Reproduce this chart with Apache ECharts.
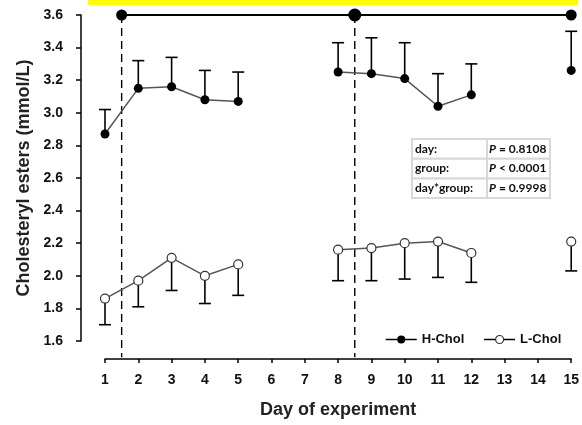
<!DOCTYPE html>
<html>
<head>
<meta charset="utf-8">
<script src="https://cdn.jsdelivr.net/npm/echarts@6/dist/echarts.min.js"></script>
<style>
html,body{margin:0;padding:0;background:#fff;}
#chart{width:582px;height:425px;}
</style>
</head>
<body>
<div id="chart"></div>
<script>
// ---- data ----
const days = [1, 2, 3, 4, 5, 8, 9, 10, 11, 12, 15];
const hMean  = [2.87, 3.15, 3.16, 3.08, 3.07, 3.25, 3.24, 3.21, 3.04, 3.11, 3.26];
const hUpper = [3.02, 3.32, 3.34, 3.26, 3.25, 3.43, 3.46, 3.43, 3.24, 3.30, 3.50];
const lMean  = [1.86, 1.97, 2.11, 2.00, 2.07, 2.16, 2.17, 2.20, 2.21, 2.14, 2.21];
const lLower = [1.70, 1.81, 1.91, 1.83, 1.88, 1.97, 1.97, 1.98, 1.99, 1.96, 2.03];
const phaseBreaks = [1.5, 8.5];
const topMarksX = [1.5, 8.5, 15];
const topMarksY = 3.6;
const xTicks = [1, 15, 1];       // min, max, interval
const yTicks = [1.6, 3.6, 0.2];  // min, max, interval
const statLabels = ['day:', 'group:', 'day*group:'];
const statOps = ['=', '<', '='];
const statValues = ['0.8108', '0.0001', '0.9998'];
const seriesNames = ['H-Chol', 'L-Chol'];

// ---- helpers ----
function withGaps(xs, ys) {
  const out = [];
  xs.forEach((x, i) => {
    if (i > 0 && x - xs[i - 1] > 1) out.push([(x + xs[i - 1]) / 2, null]);
    out.push([x, ys[i]]);
  });
  return out;
}
function errRender(params, api) {
  const x = api.value(0), m = api.value(1), e = api.value(2);
  const p0 = api.coord([x, m]);
  const p1 = api.coord([x, e]);
  const cap = 6;
  const st = { stroke: '#000', lineWidth: 1.6 };
  return {
    type: 'group',
    children: [
      { type: 'line', shape: { x1: p0[0], y1: p0[1], x2: p1[0], y2: p1[1] }, style: st },
      { type: 'line', shape: { x1: p1[0] - cap, y1: p1[1], x2: p1[0] + cap, y2: p1[1] }, style: st }
    ]
  };
}
function dashRender(params, api) {
  const x = api.value(0);
  const a = api.coord([x, yTicks[1]]);
  const b = api.coord([x, yTicks[0] - 0.1]);
  return {
    type: 'line',
    shape: { x1: a[0], y1: a[1], x2: b[0], y2: b[1] },
    style: { stroke: '#000', lineWidth: 1.4, lineDash: [8, 5] }
  };
}

const txt = '#111';
const font = 'Liberation Sans, Arial, sans-serif';

// table graphic
const tblLeft = 412, tblTop = 139, col1W = 75, col2W = 63, rowH = 19.7;
const tableChildren = [];
statLabels.forEach((lab, i) => {
  const y = tblTop + i * rowH;
  tableChildren.push({ type: 'rect', shape: { x: tblLeft, y: y, width: col1W, height: rowH }, style: { fill: '#fff', stroke: '#d8d8d8', lineWidth: 2 } });
  tableChildren.push({ type: 'rect', shape: { x: tblLeft + col1W, y: y, width: col2W, height: rowH }, style: { fill: '#fff', stroke: '#d8d8d8', lineWidth: 2 } });
  tableChildren.push({ type: 'text', x: tblLeft + 3, y: y + rowH / 2, style: { text: lab, font: 'bold 12px Lato, sans-serif', fill: txt, verticalAlign: 'middle' } });
  tableChildren.push({ type: 'text', x: tblLeft + col1W + 2, y: y + rowH / 2, style: {
    text: '{i|P} ' + statOps[i] + ' ' + statValues[i],
    font: 'bold 12px Lato, sans-serif', fill: txt, verticalAlign: 'middle',
    rich: { i: { fontStyle: 'italic', fontWeight: 'bold', fontSize: 12, fontFamily: 'Lato, sans-serif', fill: txt } }
  } });
});

const chart = echarts.init(document.getElementById('chart'), null, { renderer: 'canvas' });
chart.setOption({
  animation: false,
  backgroundColor: '#fff',
  grid: { left: 105, right: 9, top: 15, bottom: 84, containLabel: false },
  xAxis: {
    type: 'value', min: xTicks[0], max: xTicks[1], interval: xTicks[2],
    offset: 18,
    name: 'Day of experiment', nameLocation: 'middle', nameGap: 42,
    nameTextStyle: { fontFamily: font, fontSize: 18, fontWeight: 'bold', color: '#222' },
    axisLine: { lineStyle: { color: '#000', width: 1.5 } },
    axisTick: { length: 4, lineStyle: { color: '#000', width: 1.5 } },
    axisLabel: { margin: 14, fontFamily: font, fontSize: 14, fontWeight: 'bold', color: txt },
    splitLine: { show: false }
  },
  yAxis: {
    type: 'value', min: yTicks[0], max: yTicks[1], interval: yTicks[2],
    offset: 24,
    name: 'Cholesteryl esters (mmol/L)', nameLocation: 'middle', nameGap: 39,
    nameTextStyle: { fontFamily: font, fontSize: 18, fontWeight: 'bold', color: '#222' },
    axisLine: { show: true, lineStyle: { color: '#000', width: 1.5 } },
    axisTick: { show: true, length: 5, lineStyle: { color: '#000', width: 1.5 } },
    axisLabel: { margin: 18, fontFamily: font, fontSize: 14, fontWeight: 'bold', color: txt, formatter: v => v.toFixed(1) },
    splitLine: { show: false }
  },
  legend: {
    left: 380, top: 328, itemWidth: 31, itemHeight: 10, itemGap: 19,
    textStyle: { fontFamily: font, fontSize: 13, fontWeight: 'bold', color: txt },
    data: [
      { name: seriesNames[0], lineStyle: { color: '#000', width: 1.5 }, itemStyle: { color: '#000' } },
      { name: seriesNames[1], lineStyle: { color: '#000', width: 1.5 }, itemStyle: { color: '#fff', borderColor: '#333', borderWidth: 1.2 } }
    ]
  },
  graphic: [
    { type: 'rect', shape: { x: 88, y: 0, width: 490, height: 5 }, style: { fill: '#ffff00' } },
    { type: 'group', children: tableChildren }
  ],
  series: [
    {
      type: 'custom', renderItem: dashRender, data: phaseBreaks.map(x => [x]), z: 1, silent: true
    },
    {
      type: 'custom', renderItem: errRender, data: days.map((d, i) => [d, hMean[i], hUpper[i]]), z: 2, silent: true
    },
    {
      type: 'custom', renderItem: errRender, data: days.map((d, i) => [d, lMean[i], lLower[i]]), z: 2, silent: true
    },
    {
      name: seriesNames[0], type: 'line', data: withGaps(days, hMean), z: 5,
      symbol: 'circle', symbolSize: 9, showAllSymbol: true,
      lineStyle: { color: '#555', width: 1.5 },
      itemStyle: { color: '#000' }
    },
    {
      name: seriesNames[1], type: 'line', data: withGaps(days, lMean), z: 5,
      symbol: 'circle', symbolSize: 9, showAllSymbol: true,
      lineStyle: { color: '#555', width: 1.5 },
      itemStyle: { color: '#fff', borderColor: '#333', borderWidth: 1.2 }
    },
    {
      type: 'line', data: topMarksX.map((x, i) => ({ value: [x, topMarksY], symbolSize: i === 1 ? 13 : 11 })),
      z: 6, clip: false, symbol: 'circle',
      lineStyle: { color: '#000', width: 2 },
      itemStyle: { color: '#000' }
    }
  ]
});
</script>
</body>
</html>
